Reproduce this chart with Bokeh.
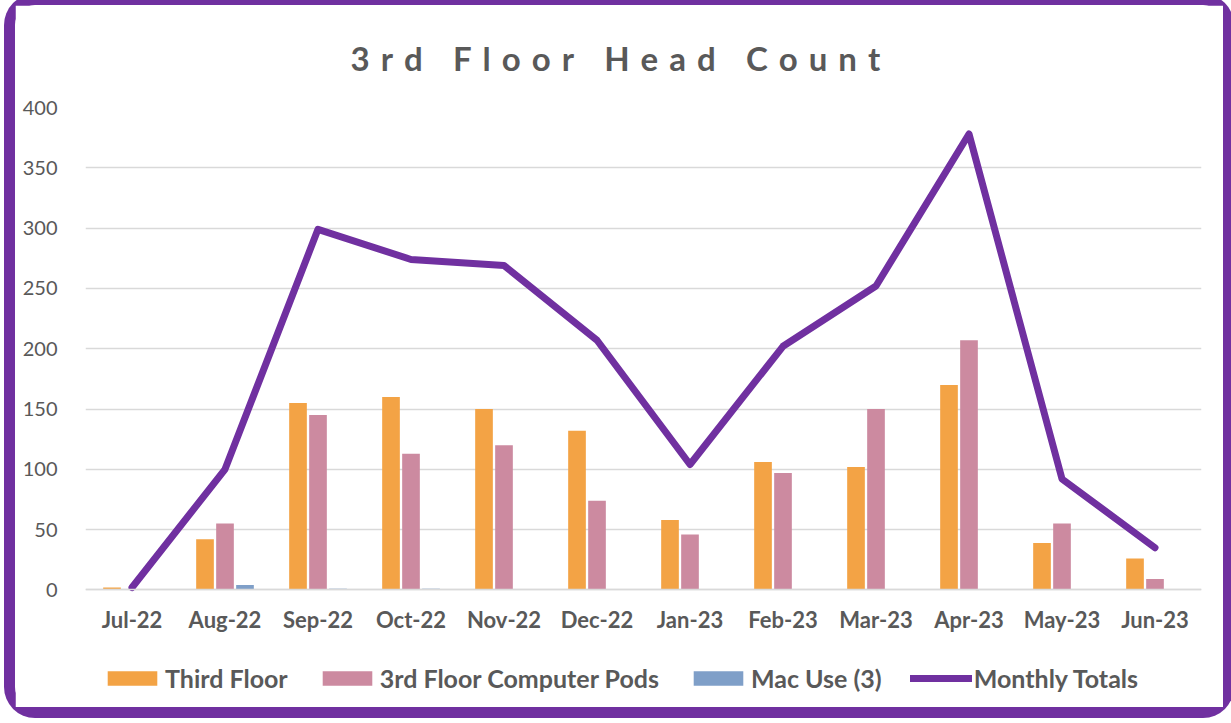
from bokeh.plotting import figure
from bokeh.models import (ColumnDataSource, Range1d, FactorRange, Legend, LegendItem,
                          FixedTicker)
from bokeh.transform import dodge
from bokeh.embed import file_html
from bokeh.resources import INLINE

months = ["Jul-22", "Aug-22", "Sep-22", "Oct-22", "Nov-22", "Dec-22",
          "Jan-23", "Feb-23", "Mar-23", "Apr-23", "May-23", "Jun-23"]
third_floor = [2, 42, 155, 160, 150, 132, 58, 106, 102, 170, 39, 26]
computer_pods = [0, 55, 145, 113, 120, 74, 46, 97, 150, 207, 55, 9]
mac_use = [0, 4, 1, 1, 0, 0, 0, 0, 0, 0, 0, 0]
monthly_totals = [2, 100, 299, 274, 269, 207, 104, 202, 252, 378, 92, 35]
y_ticks = [0, 50, 100, 150, 200, 250, 300, 350, 400]

src = ColumnDataSource(dict(month=months, third=third_floor, pods=computer_pods,
                            mac=mac_use, total=monthly_totals))

FONT = "Lato"
GREY = "#595959"

LG = "\u2004"          # gap between letters
WG = "\u2003\u2006"    # gap between words
title_txt = WG.join(LG.join(w) for w in ["3rd", "Floor", "Head", "Count"])

# the frame also holds the room for the category labels and the legend below y=0
p = figure(x_range=FactorRange(factors=months), y_range=Range1d(-97.5, 400),
           width=1208, height=702, output_backend="svg", toolbar_location=None,
           min_border_left=70, min_border_right=22, min_border_top=0,
           min_border_bottom=0, title=title_txt)
p.styles = {"box-shadow": "0 0 0 11px #7030A0", "border-radius": "20px",
            "transform": "translate(15px, 5px)"}

p.title.align = "left"
p.title.offset = 253
p.title.text_font = FONT
p.title.text_font_size = "33px"
p.title.text_font_style = "bold"
p.title.text_color = GREY
p.title.padding = 12
p.title.standoff = 36

p.outline_line_color = None
p.background_fill_color = "white"
p.border_fill_color = "white"

bw = 0.19
r1 = p.vbar(x=dodge("month", -0.215, range=p.x_range), top="third", width=bw,
            source=src, fill_color="#F3A345", line_color=None)
r2 = p.vbar(x=dodge("month", 0.0, range=p.x_range), top="pods", width=bw,
            source=src, fill_color="#CC8AA0", line_color=None)
r3 = p.vbar(x=dodge("month", 0.215, range=p.x_range), top="mac", width=bw,
            source=src, fill_color="#7F9FC8", line_color=None)
r4 = p.line(x="month", y="total", source=src, line_color="#7030A0", line_width=7,
            line_join="round", line_cap="round")

p.xgrid.grid_line_color = None
p.ygrid.grid_line_color = "#D9D9D9"
p.ygrid.grid_line_width = 1.5

p.yaxis.ticker = FixedTicker(ticks=y_ticks)
p.yaxis.axis_line_color = None
p.yaxis.major_tick_line_color = None
p.yaxis.minor_tick_line_color = None
p.yaxis.major_label_text_font = FONT
p.yaxis.major_label_text_font_size = "20px"
p.yaxis.major_label_text_color = GREY
p.yaxis.major_label_standoff = 22

p.xaxis.fixed_location = 0
p.xaxis.axis_line_color = "#D9D9D9"
p.xaxis.axis_line_width = 1.5
p.xaxis.major_tick_line_color = None
p.xaxis.minor_tick_line_color = None
p.xaxis.major_label_text_font = FONT
p.xaxis.major_label_text_font_size = "22px"
p.xaxis.major_label_text_font_style = "bold"
p.xaxis.major_label_text_color = GREY
p.xaxis.major_label_standoff = 10

legend = Legend(items=[
    LegendItem(label="Third Floor", renderers=[r1]),
    LegendItem(label="3rd Floor Computer Pods", renderers=[r2]),
    LegendItem(label="Mac Use (3)", renderers=[r3]),
    LegendItem(label="Monthly Totals", renderers=[r4]),
], orientation="horizontal", location=(16, 14))
legend.glyph_width = 62
legend.glyph_height = 18
legend.label_text_font = FONT
legend.label_text_font_size = "25px"
legend.label_text_font_style = "bold"
legend.label_text_color = GREY
legend.label_standoff = 2
legend.spacing = 28
legend.border_line_color = None
legend.background_fill_alpha = 0
legend.padding = 4
legend.margin = 0
p.add_layout(legend, "center")

open("out.html", "w").write(file_html(p, INLINE))
